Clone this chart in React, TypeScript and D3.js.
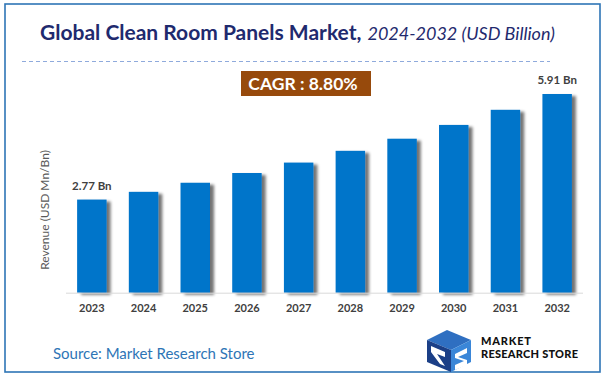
import React from "react";
import * as d3 from "d3";

const years = ["2023", "2024", "2025", "2026", "2027", "2028", "2029", "2030", "2031", "2032"];
const revenue = [2.77, 3.0, 3.27, 3.56, 3.87, 4.22, 4.58, 4.99, 5.44, 5.91];
const labelled: Record<string, string> = { "2023": "2.77 Bn", "2032": "5.91 Bn" };
const titleMain = "Global Clean Room Panels Market,";
const titleSub = "2024-2032 (USD Billion)";
const cagrText = "CAGR : 8.80%";
const yAxisTitle = "Revenue (USD Mn/Bn)";
const sourceText = "Source: Market Research Store";

const W = 605;
const H = 378;
const FONT = "Lato, 'Open Sans', sans-serif";

export default function App() {
  const x = d3.scaleBand<string>().domain(years).range([66, 583]).paddingInner(0.43).paddingOuter(0.215);
  const y = d3.scaleLinear().domain([0, 5.91]).range([292.7, 94]);
  const base = y(0);

  return (
    <svg width={W} height={H} style={{ position: "absolute", left: 0, top: 0 }}>
      <defs>
        <filter id="shadow" x="-20%" y="-5%" width="160%" height="115%">
          <feGaussianBlur in="SourceAlpha" stdDeviation="1.8" />
          <feOffset dx="4" dy="2" result="b" />
          <feComponentTransfer>
            <feFuncA type="linear" slope="0.55" />
          </feComponentTransfer>
          <feMerge>
            <feMergeNode />
            <feMergeNode in="SourceGraphic" />
          </feMerge>
        </filter>
      </defs>
      <rect x={0} y={0} width={W} height={H} fill="#fff" />
      <rect x={5} y={4} width={595} height={368} fill="#fff" stroke="#2E75B6" strokeWidth={1.6} />

      <text x={40} y={40} fontFamily={FONT} fontSize={21} fill="#1F2A6E">
        <tspan fontWeight="bold">{titleMain}</tspan>
        <tspan fontStyle="italic" fontSize={18} dx={6}>{titleSub}</tspan>
      </text>
      <line x1={22} x2={550} y1={61.5} y2={61.5} stroke="#8FAADC" strokeWidth={1} strokeDasharray="4 3" />

      <rect x={241} y={71} width={130} height={25} fill="#974A0C" />
      <text x={303} y={90} textAnchor="middle" fontFamily={FONT} fontWeight="bold" fontSize={17.5} fill="#fff">
        {cagrText}
      </text>

      <text
        transform={`translate(49,${210}) rotate(-90)`}
        textAnchor="middle"
        fontFamily={FONT}
        fontSize={12}
        fill="#595959"
      >
        {yAxisTitle}
      </text>

      <g filter="url(#shadow)">
        {years.map((yr, i) => (
          <rect key={yr} x={x(yr)} y={y(revenue[i])} width={x.bandwidth()} height={base - y(revenue[i])} fill="#0674CA" />
        ))}
      </g>

      <line x1={66} x2={583} y1={base + 0.5} y2={base + 0.5} stroke="#D9D9D9" strokeWidth={1} />

      {years.map((yr) => (
        <text
          key={yr}
          x={(x(yr) as number) + x.bandwidth() / 2}
          y={312}
          textAnchor="middle"
          fontFamily={FONT}
          fontWeight="bold"
          fontSize={11}
          fill="#404040"
        >
          {yr}
        </text>
      ))}

      {years.map((yr, i) =>
        labelled[yr] ? (
          <text
            key={"l" + yr}
            x={(x(yr) as number) + x.bandwidth() / 2}
            y={y(revenue[i]) - 10}
            textAnchor="middle"
            fontFamily={FONT}
            fontWeight="bold"
            fontSize={11.5}
            fill="#404040"
          >
            {labelled[yr]}
          </text>
        ) : null
      )}

      <text x={53} y={359} fontFamily={FONT} fontSize={15} fill="#2E75B6">
        {sourceText}
      </text>

      <g transform="translate(427,330)">
        <polygon points="0,10 20,0 44,10 24,20" fill="#2F6FC1" />
        <polygon points="0,10 24,20 24,42 0,32" fill="#1B3F87" />
        <polygon points="24,20 44,10 44,32 24,42" fill="#3A86D8" />
        <path d="M4,16 L18,22 L18,27 L10,24 L18,36 L13,34 L4,22 Z" fill="#fff" />
        <path d="M28,24 L40,18 L40,23 L31,27 L40,30 L40,35 L28,40 L28,35 L37,31 L28,28 Z" fill="#fff" />
      </g>
      <text x={481} y={344.5} fontFamily={FONT} fontWeight="900" fontSize={11} textLength={50} fill="#111">MARKET</text>
      <text x={481} y={358} fontFamily={FONT} fontWeight="900" fontSize={11} textLength={97} fill="#111">RESEARCH STORE</text>
    </svg>
  );
}
